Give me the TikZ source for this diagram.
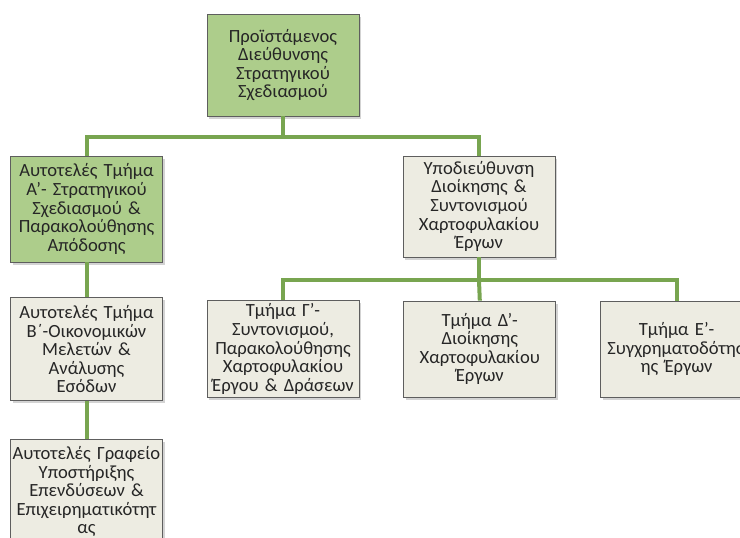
\documentclass[tikz,border=0pt]{standalone}
\usepackage{fontspec}
\setmainfont{Carlito}
\usepackage{tikz}
\usetikzlibrary{positioning,shadows,calc}
\definecolor{boxgreen}{HTML}{ADCD8B}
\definecolor{boxgrey}{HTML}{EDECE2}
\definecolor{linkgreen}{HTML}{78A550}
\definecolor{rim}{HTML}{5E5E5E}

\begin{document}
\begin{tikzpicture}[x=1pt, y=1pt,
    unit/.style={draw=rim, line width=0.8pt, fill=boxgrey, minimum width=152pt, minimum height=100pt,
                 text width=151pt, inner xsep=0.5pt, align=center, text=black!85,
                 font=\fontsize{18.6}{18.6}\selectfont,
                 drop shadow={shadow xshift=2pt, shadow yshift=-2.5pt, opacity=0.35}},
    head/.style={unit, fill=boxgreen},
    link/.style={draw=linkgreen, line width=4pt}]
    \clip (0,0) rectangle (740,-538);
    \node[head, minimum height=102pt] (chief) at (283,-65)
      {Προϊστάμενος\\Διεύθυνσης\\Στρατηγικού\\Σχεδιασμού};
    \node[head, minimum height=106pt] (unitA) at (86.5,-209)
      {Αυτοτελές Τμήμα\\Α’- Στρατηγικού\\Σχεδιασμού \&\\Παρακολούθησης\\Απόδοσης};
    \node[unit, minimum height=101pt] (subdir) at (479,-206.5)
      {Υποδιεύθυνση\\Διοίκησης \&\\Συντονισμού\\Χαρτοφυλακίου\\Έργων};
    \node[unit, minimum height=103pt, below=35pt of unitA] (unitB)
      {Αυτοτελές Τμήμα\\Β΄-Οικονομικών\\Μελετών \&\\Ανάλυσης\\Εσόδων};
    \node[unit, minimum height=104pt, below=38pt of unitB] (office)
      {Αυτοτελές Γραφείο\\Υποστήριξης\\Επενδύσεων \&\\Επιχειρηματικότητ\\ας};
    \node[unit, minimum height=96pt] (deptG) at (283,-349)
      {Τμήμα Γ’-\\Συντονισμού,\\Παρακολούθησης\\Χαρτοφυλακίου\\Έργου \& Δράσεων};
    \node[unit, minimum height=96pt, right=44pt of deptG] (deptD)
      {Τμήμα Δ’-\\Διοίκησης\\Χαρτοφυλακίου\\Έργων};
    \node[unit, minimum height=96pt, right=44pt of deptD] (deptE)
      {Τμήμα Ε’-\\Συγχρηματοδότησ\\ης Έργων};
    % buses
    \coordinate (bus1) at ($(chief.south)+(0,-21)$);
    \coordinate (bus2) at ($(subdir.south)+(0,-23)$);
    \draw[link] (chief.south) -- (bus1) -| (unitA.north);
    \draw[link] (bus1) -| (subdir.north);
    \draw[link] (unitA) -- (unitB);
    \draw[link] (unitB) -- (office);
    \draw[link] (subdir.south) -- (bus2) -| (deptG.north);
    \draw[link] (bus2) -- (deptD.north);
    \draw[link] (bus2) -| (deptE.north);
  \end{tikzpicture}
\end{document}
